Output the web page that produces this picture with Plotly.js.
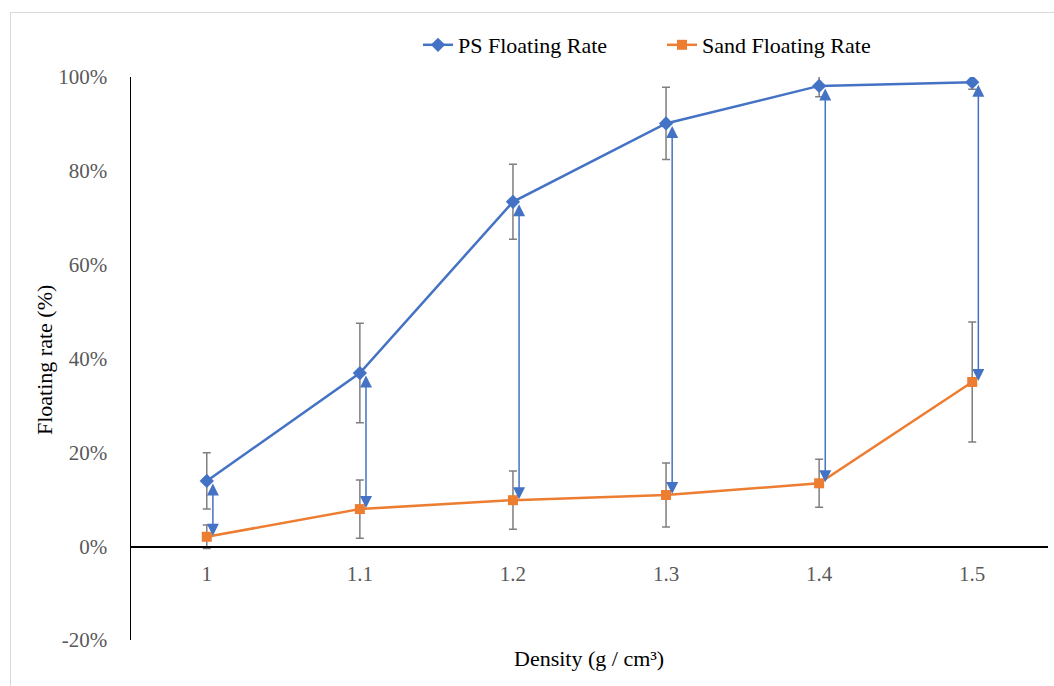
<!DOCTYPE html>
<html>
<head>
<meta charset="utf-8">
<script src="https://cdn.plot.ly/plotly-3.0.1.min.js"></script>
<style>
  html, body { margin: 0; padding: 0; background: #ffffff; overflow: hidden; }
  #frame { position: absolute; left: 10px; top: 12px; width: 1100px; height: 700px; border: 1px solid #d9d9d9; z-index: 0; }
  #chart { position: absolute; left: 0; top: 0; width: 1054px; height: 686px; z-index: 1; }
</style>
</head>
<body>
<div id="frame"></div>
<div id="chart"></div>
<script>
// ---- data ----
const density       = [1, 1.1, 1.2, 1.3, 1.4, 1.5];
const densityLabels = ['1', '1.1', '1.2', '1.3', '1.4', '1.5'];
const psRate        = [0.139, 0.369, 0.734, 0.901, 0.981, 0.989];
const psError       = [0.060, 0.106, 0.080, 0.077, 0.023, 0.015];
const sandRate      = [0.020, 0.079, 0.098, 0.109, 0.134, 0.350];
const sandError     = [0.025, 0.062, 0.062, 0.068, 0.051, 0.128];
const yTicks        = [-0.2, 0, 0.2, 0.4, 0.6, 0.8, 1.0];
const yTickLabels   = ['-20%', '0%', '20%', '40%', '60%', '80%', '100%'];
const seriesNames   = ['PS Floating Rate', 'Sand Floating Rate'];

const FONT = 'Liberation Serif, Times New Roman, serif';
const BLUE = '#4472C4';
const ORANGE = '#ED7D31';
const ERR = '#7f7f7f';
const ARROW_OFFSET = 0.004;

const traces = [
  {
    x: density, y: psRate, name: seriesNames[0], type: 'scatter', mode: 'lines+markers',
    line: { color: BLUE, width: 2.5 },
    marker: { symbol: 'diamond', size: 11, color: BLUE },
    error_y: { type: 'data', array: psError, visible: true, color: ERR, thickness: 1.5, width: 4 }
  },
  {
    x: density, y: sandRate, name: seriesNames[1], type: 'scatter', mode: 'lines+markers',
    line: { color: ORANGE, width: 2.5 },
    marker: { symbol: 'square', size: 10, color: ORANGE },
    error_y: { type: 'data', array: sandError, visible: true, color: ERR, thickness: 1.5, width: 4 }
  }
];

const annotations = density.map((d, i) => ({
  x: d + ARROW_OFFSET, y: sandRate[i], xref: 'x', yref: 'y',
  ax: d + ARROW_OFFSET, ay: psRate[i], axref: 'x', ayref: 'y',
  text: '', showarrow: true, arrowside: 'end+start',
  arrowhead: 2, startarrowhead: 2, arrowsize: 1.6, startarrowsize: 1.6,
  arrowwidth: 1.5, arrowcolor: BLUE, standoff: 1, startstandoff: 1
}));

annotations.push({
  text: 'Density (g / cm³)', xref: 'paper', yref: 'paper', x: (589 - 131) / 917, y: -0.033,
  xanchor: 'center', yanchor: 'middle', showarrow: false,
  font: { family: FONT, size: 22, color: '#000000' }
});
annotations.push({
  text: 'Floating rate (%)', xref: 'paper', yref: 'paper', x: (45 - 131) / 917, y: (640 - 360) / 563,
  xanchor: 'center', yanchor: 'middle', showarrow: false, textangle: -90,
  font: { family: FONT, size: 22, color: '#000000' }
});

const layout = {
  width: 1054, height: 686,
  margin: { l: 131, r: 6, t: 77, b: 46 },
  paper_bgcolor: 'rgba(0,0,0,0)', plot_bgcolor: 'rgba(0,0,0,0)',
  font: { family: FONT, size: 21, color: '#595959' },
  showlegend: true,
  legend: {
    orientation: 'h', x: (418 - 131) / 917, xanchor: 'left', y: 1 + (77 - 45) / 563, yanchor: 'middle',
    font: { family: FONT, size: 22, color: '#000000' }, itemwidth: 30, bgcolor: 'rgba(0,0,0,0)',
    entrywidth: 199, entrywidthmode: 'pixels'
  },
  xaxis: {
    range: [0.9505, 1.5495], tickvals: density, ticktext: densityLabels,
    anchor: 'free', position: 0.2 / 1.2,
    showline: true, linecolor: '#000000', linewidth: 1.5,
    showgrid: false, zeroline: false, ticks: '', ticklabelstandoff: 8,
    tickfont: { family: FONT, size: 21, color: '#595959' }
  },
  yaxis: {
    range: [-0.2, 1.0], tickvals: yTicks, ticktext: yTickLabels,
    showline: true, linecolor: '#000000', linewidth: 1.5,
    showgrid: false, zeroline: false, ticks: '', ticklabelstandoff: 18,
    tickfont: { family: FONT, size: 21, color: '#595959' }
  },
  annotations: annotations
};

Plotly.newPlot('chart', traces, layout, { displayModeBar: false, staticPlot: true });
</script>
</body>
</html>
